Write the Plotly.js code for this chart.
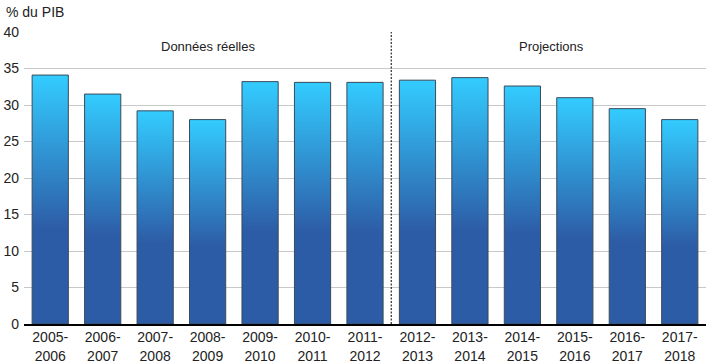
<!DOCTYPE html>
<html>
<head>
<meta charset="utf-8">
<script src="https://cdn.plot.ly/plotly-3.0.1.min.js"></script>
<style>html,body{margin:0;padding:0;background:#fff;}#chart{width:720px;height:364px;}</style>
</head>
<body>
<div id="chart"></div>
<script>
const categories = ["2005-<br>2006","2006-<br>2007","2007-<br>2008","2008-<br>2009","2009-<br>2010","2010-<br>2011","2011-<br>2012","2012-<br>2013","2013-<br>2014","2014-<br>2015","2015-<br>2016","2016-<br>2017","2017-<br>2018"];
const values = [34.1, 31.5, 29.2, 28.0, 33.2, 33.1, 33.1, 33.4, 33.75, 32.6, 31.0, 29.5, 28.0];
const yTicks = [0, 5, 10, 15, 20, 25, 30, 35, 40];
const sectionLabels = ["Données réelles", "Projections"];
const yTitle = "% du PIB";

const barWidth = 0.69;
const traces = values.map((v, i) => ({
  type: 'scatter',
  mode: 'lines',
  x: [i - barWidth/2, i - barWidth/2, i + barWidth/2, i + barWidth/2, i - barWidth/2],
  y: [0, v, v, 0, 0],
  fill: 'toself',
  fillgradient: {
    type: 'vertical',
    colorscale: [[0, '#2d5ca6'], [0.38, '#2d5ca6'], [1, '#33ccff']]
  },
  line: {color: '#3a4a5a', width: 1},
  hoverinfo: 'skip',
  showlegend: false
}));

const fontFam = '"Liberation Sans", Arial, Helvetica, sans-serif';
const layout = {
  width: 720, height: 364,
  margin: {l: 24, r: 14, t: 32, b: 40},
  paper_bgcolor: '#fff', plot_bgcolor: '#fff',
  font: {family: fontFam, size: 14, color: '#222'},
  showlegend: false,
  xaxis: {
    range: [-0.5, categories.length - 0.5],
    tickvals: categories.map((c, i) => i),
    ticktext: categories,
    showgrid: false, zeroline: false,
    showline: true, linecolor: '#000', linewidth: 1.5,
    ticks: '', tickfont: {size: 14, family: fontFam, color: '#222'},
    fixedrange: true
  },
  yaxis: {
    range: [0, 40],
    tickvals: yTicks,
    showgrid: true, gridcolor: '#c8c8c8', gridwidth: 1,
    zeroline: false, showline: false,
    ticks: '', ticklabelstandoff: 4,
    tickfont: {size: 14, family: fontFam, color: '#222'},
    fixedrange: true
  },
  shapes: [{
    type: 'line', xref: 'x', yref: 'paper',
    x0: 6.5, x1: 6.5, y0: 0, y1: 1,
    line: {color: '#000', width: 1, dash: '2px,1.5px'}
  }],
  annotations: [
    {text: yTitle, xref: 'paper', yref: 'paper', x: 0, xanchor: 'left', xshift: -20, y: 1, yanchor: 'bottom', yshift: 10, showarrow: false, font: {size: 14, family: fontFam, color: '#222'}},
    {text: sectionLabels[0], xref: 'x', yref: 'paper', x: 3.0, y: 0.95, yanchor: 'middle', showarrow: false, font: {size: 13, family: fontFam, color: '#222'}},
    {text: sectionLabels[1], xref: 'x', yref: 'paper', x: 9.55, y: 0.95, yanchor: 'middle', showarrow: false, font: {size: 13, family: fontFam, color: '#222'}}
  ]
};

Plotly.newPlot('chart', traces, layout, {displayModeBar: false, staticPlot: true});
</script>
</body>
</html>
